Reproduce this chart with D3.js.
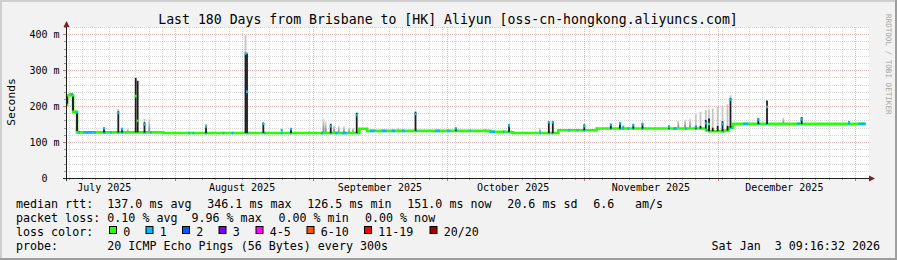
<!DOCTYPE html>
<html><head><meta charset="utf-8">
<script src="https://cdn.jsdelivr.net/npm/d3@7"></script>
<style>
html,body{margin:0;padding:0;background:#f2f2f2;overflow:hidden;}
svg{display:block;}
text{font-family:"DejaVu Sans Mono",monospace;white-space:pre;}
</style></head><body>
<svg id="c" width="897" height="260"></svg>
<script>
// ---------------- data ----------------
const title = "Last 180 Days from Brisbane to [HK] Aliyun [oss-cn-hongkong.aliyuncs.com]";
const endTime = "2026-01-03T09:16:32Z";
const spanDays = 180;
const yMax = 420;
const yTicks = [0, 100, 200, 300, 400];
const yTickLabels = ["0  ", "100 m", "200 m", "300 m", "400 m"];
const monthLabelDates = ["2025-07-16", "2025-08-16", "2025-09-16", "2025-10-16", "2025-11-16", "2025-12-16"];
const monthLabels = ["July 2025", "August 2025", "September 2025", "October 2025", "November 2025", "December 2025"];

// median rtt baseline (step levels), day offset from start, ms
const baseDays = [0, 0.25, 0.9, 1.35, 1.58, 2.48, 21.89, 66.0, 67.73, 95.4, 100.1, 100.58, 110.77, 119.4, 144.0, 144.68, 148.05, 149.18, 150.08];
const baseMs   = [203, 230, 233, 230, 184, 127, 125, 137, 131, 128.5, 127, 125, 133, 137.5, 133, 130, 132, 140, 150.5];

// periods where the median carried 1 lost ping (day offsets)
const lossStart = [0, 1.13, 2.77, 3.89, 6.14, 8.39, 9.9, 11.48, 12.53, 17.39, 18.9, 27.52, 28.51, 31.28, 35.26, 37.28, 40.66, 44.62, 48.38, 50.4, 57.38, 59.4, 60.53, 62.17, 65.25, 68.4, 71.03, 73.28, 75.53, 78.53, 83.03, 85.66, 87.53, 90.79, 95.4, 98.33, 99.52, 106.54, 108.52, 109.28, 113.02, 114.91, 116.39, 122.4, 124.49, 125.21, 126.34, 127.51, 129.53, 135.52, 136.64, 139.28, 141.53, 144.0, 147.71, 149.4, 152.39, 155.7, 157.5, 164.41, 165.38, 176.02, 178.27];
const lossEnd   = [0.3, 1.51, 3.15, 6.01, 6.75, 8.93, 10.28, 11.93, 12.76, 18.0, 19.28, 27.9, 28.8, 31.79, 35.55, 37.51, 41.02, 44.93, 48.71, 50.78, 57.89, 59.92, 61.27, 63.16, 65.59, 69.53, 72.16, 74.03, 76.28, 78.91, 84.15, 86.4, 87.91, 91.13, 96.53, 98.55, 99.9, 106.88, 108.9, 109.64, 113.4, 115.27, 116.78, 122.78, 124.81, 125.55, 126.68, 127.8, 129.89, 135.9, 137.41, 139.66, 141.91, 144.34, 148.05, 149.92, 153.52, 155.93, 157.84, 165.15, 165.71, 176.4, 179.78];

// spikes: day offset, median (ms, null = none), dark smoke top, light smoke top, lost pings
const spikeDays  = [2.36, 8.55, 11.77, 12.6, 13.88, 15.68, 16.13, 17.66, 18.74, 31.5, 40.39, 40.73, 44.4, 48.53, 50.63, 54.74, 57.94, 58.43, 59.56, 60.3, 61.36, 62.55, 63.68, 64.58, 65.41, 74.77, 78.64, 87.71, 94.28, 99.68, 106.65, 108.63, 109.53, 116.62, 122.58, 124.65, 125.39, 127.64, 129.71, 135.68, 137.77, 139.28, 140.4, 141.71, 142.76, 143.96, 144.68, 145.51, 146.63, 147.71, 148.84, 149.51, 155.77, 157.73, 161.39, 165.51, 176.18];
const spikeMed   = [182, 138, 181, 136, null, 228, 159, 149, null, 143, 346, 240, 151, 133, 136, null, null, null, 144, null, null, null, null, null, 175, null, 178, 138, null, 146, null, 155, 155, 144, 148, 152, 142, 147, 150, 143, null, null, null, 143, null, 152, 150, null, null, 150, null, 218, 162, 198, null, 163, 155];
const spikeDark  = [184, 138, 186, 137, null, 278, 270, 155, null, 145, 346, 346, 153, null, 137, null, null, null, 150, null, null, null, null, null, 181, null, 184, 139, null, 149, null, 158, 158, 149, 150, 154, null, 149, 152, 145, null, null, null, 145, 145, 161, 166, 140, 145, 158, 145, 223, 166, 215, null, 169, null];
const spikeSmoke = [187, 140, 192, 139, 138, 280, 272, 165, 166, 150, 397, 350, 156, null, 138, 132, 166, 158, 152, 147, 146, 145, 141, 140, 184, 140, 187, 140, 138, 150, 140, 159, 159, 150, 152, 156, null, 151, 154, 147, 161, 163, 166, 177, 184, 189, 190, 193, 198, 200, 205, 230, 168, 217, 168, 170, null];
const spikeLoss  = [1, 1, 1, 1, 0, 0, 0, 1, 0, 1, 1, 1, 1, 1, 1, 0, 0, 0, 1, 0, 0, 0, 0, 0, 1, 0, 1, 1, 0, 1, 0, 1, 1, 1, 1, 1, 1, 1, 1, 1, 0, 0, 0, 1, 0, 1, 0, 0, 0, 1, 0, 1, 1, 1, 0, 1, 1];

// legend
const lossColors = ["#26ff00", "#00b8ff", "#0059ff", "#7e00ff", "#ff00ff", "#ff5500", "#ff0000", "#a10000"];
const lossLabels = ["0", "1", "2", "3", "4-5", "6-10", "11-19", "20/20"];
const rttStats  = ["137.0 ms avg", "346.1 ms max", "126.5 ms min", "151.0 ms now", "20.6 ms sd", "6.6", "am/s"];
const lossStats = ["0.10 % avg", "9.96 % max", "0.00 % min", "0.00 % now"];
const probeText = "20 ICMP Echo Pings (56 Bytes) every 300s";
const stampText = "Sat Jan  3 09:16:32 2026";
const watermark = "RRDTOOL / TOBI OETIKER";

// ---------------- layout ----------------
const W = 897, H = 260;
const X0 = 66, X1 = 866, GX1 = 869, Y0 = 178, Y1 = 27;
const rttStatX = [107.3, 207.3, 307.3, 407.3, 507.3, 593.3, 635];
const lossStatX = [107.3, 191.5, 278.5, 365];
const boxX = [109, 145.5, 182, 218.5, 255.5, 306.5, 364, 429.5];
const legendY = [208, 222, 236, 250];
const legFont = 11.66;
const gridMinor = "rgba(150,150,150,0.38)";
const gridMajor = "rgba(222,79,79,0.42)";
const medianW = 2.6, spikeW = 1.8;

const svg = d3.select("#c");
const end = new Date(endTime);
const start = new Date(+end - spanDays * 864e5);
const x = d3.scaleUtc().domain([start, end]).range([X0, X1]);
const y = d3.scaleLinear().domain([0, yMax]).range([Y0, Y1]);
const dd = d => new Date(+start + d * 864e5);
const px = v => Math.round(v) + 0.5;

// background & frame
svg.append("rect").attr("width", W).attr("height", H).attr("fill", "#f2f2f2");
svg.append("rect").attr("x", 0).attr("y", 0).attr("width", W).attr("height", 2).attr("fill", "#cfcfcf");
svg.append("rect").attr("x", 0).attr("y", 0).attr("width", 2).attr("height", H).attr("fill", "#cfcfcf");
svg.append("rect").attr("x", 0).attr("y", H - 2).attr("width", W).attr("height", 2).attr("fill", "#9e9e9e");
svg.append("rect").attr("x", W - 2).attr("y", 0).attr("width", 2).attr("height", H).attr("fill", "#9e9e9e");
svg.append("rect").attr("x", X0).attr("y", Y1).attr("width", GX1 - X0).attr("height", Y0 - Y1).attr("fill", "#ffffff");

// grid
const g = svg.append("g").attr("shape-rendering", "crispEdges");
const minorV = d3.range(20, yMax + 1, 20).filter(v => v % 100 !== 0);
g.selectAll(".hmin").data(minorV).join("line")
  .attr("x1", X0).attr("x2", GX1).attr("y1", v => px(y(v))).attr("y2", v => px(y(v)))
  .attr("stroke", gridMinor).attr("stroke-dasharray", "1,1");
g.selectAll(".hminT").data(minorV).join("line")
  .attr("x1", X0 - 2).attr("x2", X0).attr("y1", v => px(y(v))).attr("y2", v => px(y(v)))
  .attr("stroke", "#9a9a9a");
const majorV = yTicks.filter(v => v > 0);
g.selectAll(".hmaj").data(majorV).join("line")
  .attr("x1", X0).attr("x2", GX1).attr("y1", v => px(y(v))).attr("y2", v => px(y(v)))
  .attr("stroke", gridMajor).attr("stroke-dasharray", "1,1");
g.selectAll(".hmajT").data(yTicks).join("line")
  .attr("x1", X0 - 3).attr("x2", X0).attr("y1", v => px(y(v))).attr("y2", v => px(y(v)))
  .attr("stroke", "#e07070");

const minorDays = d3.utcDay.range(start, end).filter(d => Math.round(+d / 864e5) % 3 === 0 && d.getUTCDate() !== 1);
g.selectAll(".vmin").data(minorDays).join("line")
  .attr("x1", d => px(x(d))).attr("x2", d => px(x(d))).attr("y1", Y1).attr("y2", Y0)
  .attr("stroke", gridMinor).attr("stroke-dasharray", "1,1");
g.selectAll(".vminT").data(minorDays).join("line")
  .attr("x1", d => px(x(d))).attr("x2", d => px(x(d))).attr("y1", Y0).attr("y2", Y0 + 2)
  .attr("stroke", "#9a9a9a");
const months = d3.utcMonth.range(start, end);
g.selectAll(".vmaj").data(months).join("line")
  .attr("x1", d => px(x(d))).attr("x2", d => px(x(d))).attr("y1", Y1).attr("y2", Y0)
  .attr("stroke", gridMajor).attr("stroke-dasharray", "1,1");
g.selectAll(".vmajT").data(months).join("line")
  .attr("x1", d => px(x(d))).attr("x2", d => px(x(d))).attr("y1", Y0).attr("y2", Y0 + 3)
  .attr("stroke", "#e07070");

// helpers
const baseAt = d => { let i = d3.bisectRight(baseDays, d) - 1; return baseMs[Math.max(0, i)]; };

// gradient for smoke
const defs = svg.append("defs");
const grad = defs.append("linearGradient").attr("id", "smoke").attr("x1", 0).attr("y1", 1).attr("x2", 0).attr("y2", 0);
grad.append("stop").attr("offset", 0).attr("stop-color", "#7a7a7a");
grad.append("stop").attr("offset", 1).attr("stop-color", "#e4e4e4");

const spikes = spikeDays.map((d, i) => ({ d, med: spikeMed[i], dark: spikeDark[i], smoke: spikeSmoke[i], loss: spikeLoss[i], base: baseAt(d) }));
const data = svg.append("g");

// light smoke
data.selectAll(".smoke").data(spikes.filter(s => s.smoke != null)).join("rect")
  .attr("x", s => x(dd(s.d)) - spikeW / 2).attr("width", spikeW)
  .attr("y", s => y(s.smoke))
  .attr("height", s => Math.max(0.5, y(s.dark != null ? s.dark : s.base) - y(s.smoke)))
  .attr("fill", s => s.dark != null ? "#c4c4c4" : "url(#smoke)");

// median baseline
const pts = baseDays.map((d, i) => [d, baseMs[i]]).concat([[spanDays, baseMs[baseMs.length - 1]]]);
data.append("path")
  .attr("d", d3.line().x(p => x(dd(p[0]))).y(p => y(p[1])).curve(d3.curveStepAfter)(pts))
  .attr("fill", "none").attr("stroke", lossColors[0]).attr("stroke-width", medianW);

// large level transitions drawn as dark smoke
const trans = baseDays.map((d, i) => ({ d, a: i ? baseMs[i - 1] : baseMs[i], b: baseMs[i] })).filter(t => Math.abs(t.a - t.b) > 15);
data.selectAll(".trans").data(trans).join("rect")
  .attr("x", t => x(dd(t.d)) - 1).attr("width", 2)
  .attr("y", t => y(Math.max(t.a, t.b)) + medianW / 2).attr("height", t => y(Math.min(t.a, t.b)) - y(Math.max(t.a, t.b)) - medianW)
  .attr("fill", "#222");

// loss-coloured portions of the median
const lossSeg = lossStart.map((s, i) => ({ s, e: lossEnd[i] }));
data.selectAll(".loss").data(lossSeg).join("rect")
  .attr("x", l => x(dd(l.s))).attr("width", l => Math.max(1.5, x(dd(l.e)) - x(dd(l.s))))
  .attr("y", l => y(baseAt(l.s)) - medianW / 2).attr("height", medianW)
  .attr("fill", lossColors[1]);

// dark smoke of spikes
data.selectAll(".dark").data(spikes.filter(s => s.dark != null)).join("rect")
  .attr("x", s => x(dd(s.d)) - spikeW / 2).attr("width", spikeW)
  .attr("y", s => y(s.dark)).attr("height", s => Math.max(0.5, y(s.base) - y(s.dark)))
  .attr("fill", "#1e1e1e");

// spike medians
data.selectAll(".med").data(spikes.filter(s => s.med != null)).join("rect")
  .attr("x", s => x(dd(s.d)) - 1).attr("width", 2)
  .attr("y", s => y(s.med) - medianW / 2).attr("height", medianW)
  .attr("fill", s => lossColors[s.loss]);

// axes
svg.append("line").attr("x1", X0 - 3).attr("x2", GX1 + 1).attr("y1", Y0 + 0.5).attr("y2", Y0 + 0.5)
  .attr("stroke", "#1f1f1f").attr("shape-rendering", "crispEdges");
svg.append("line").attr("x1", X0 + 0.5).attr("x2", X0 + 0.5).attr("y1", Y0 + 3).attr("y2", Y1 - 1)
  .attr("stroke", "#1f1f1f").attr("shape-rendering", "crispEdges");
svg.append("path").attr("d", d3.line()([[X0 + 0.5, Y1 - 6], [X0 - 2.5, Y1], [X0 + 3.5, Y1]]) + "Z").attr("fill", "#801f1f");
svg.append("path").attr("d", d3.line()([[GX1 + 6, Y0 + 0.5], [GX1, Y0 - 2.5], [GX1, Y0 + 3.5]]) + "Z").attr("fill", "#801f1f");

// axis labels
svg.selectAll(".ylab").data(yTicks).join("text")
  .attr("x", 59.5).attr("y", v => y(v) + 3.6).attr("text-anchor", "end")
  .attr("font-size", 10).attr("fill", "#000").text((v, i) => yTickLabels[i]);
svg.selectAll(".xlab").data(monthLabelDates).join("text")
  .attr("x", d => x(new Date(d + "T00:00:00Z"))).attr("y", 191.3).attr("text-anchor", "middle")
  .attr("font-size", 10).attr("fill", "#000").text((d, i) => monthLabels[i]);

svg.append("text").attr("transform", "translate(15.2,102) rotate(-90)").attr("text-anchor", "middle")
  .attr("font-size", 11.3).attr("fill", "#000").text("Seconds");
svg.append("text").attr("x", 448).attr("y", 23.6).attr("text-anchor", "middle")
  .attr("font-size", 13.2).attr("fill", "#000").text(title);
svg.append("text").attr("transform", "translate(886.2,14) rotate(90)")
  .attr("font-size", 7.6).attr("fill", "#a8a8a8").text(watermark);

// legend
const leg = svg.append("g").attr("font-size", legFont).attr("fill", "#000");
leg.append("text").attr("x", 16).attr("y", legendY[0]).text("median rtt:");
rttStats.forEach((t, i) => leg.append("text").attr("x", rttStatX[i]).attr("y", legendY[0]).text(t));
leg.append("text").attr("x", 16).attr("y", legendY[1]).text("packet loss:");
lossStats.forEach((t, i) => leg.append("text").attr("x", lossStatX[i]).attr("y", legendY[1]).text(t));
leg.append("text").attr("x", 16).attr("y", legendY[2]).text("loss color:");
lossLabels.forEach((t, i) => {
  leg.append("rect").attr("x", boxX[i] + 0.5).attr("y", legendY[2] - 9.5).attr("width", 7).attr("height", 7)
    .attr("fill", lossColors[i]).attr("stroke", "#000").attr("stroke-width", 1);
  leg.append("text").attr("x", boxX[i] + 14.3).attr("y", legendY[2]).text(t);
});
leg.append("text").attr("x", 16).attr("y", legendY[3]).text("probe:");
leg.append("text").attr("x", 107.3).attr("y", legendY[3]).text(probeText);
leg.append("text").attr("x", 880).attr("y", legendY[3]).attr("text-anchor", "end").text(stampText);
</script>
</body></html>
